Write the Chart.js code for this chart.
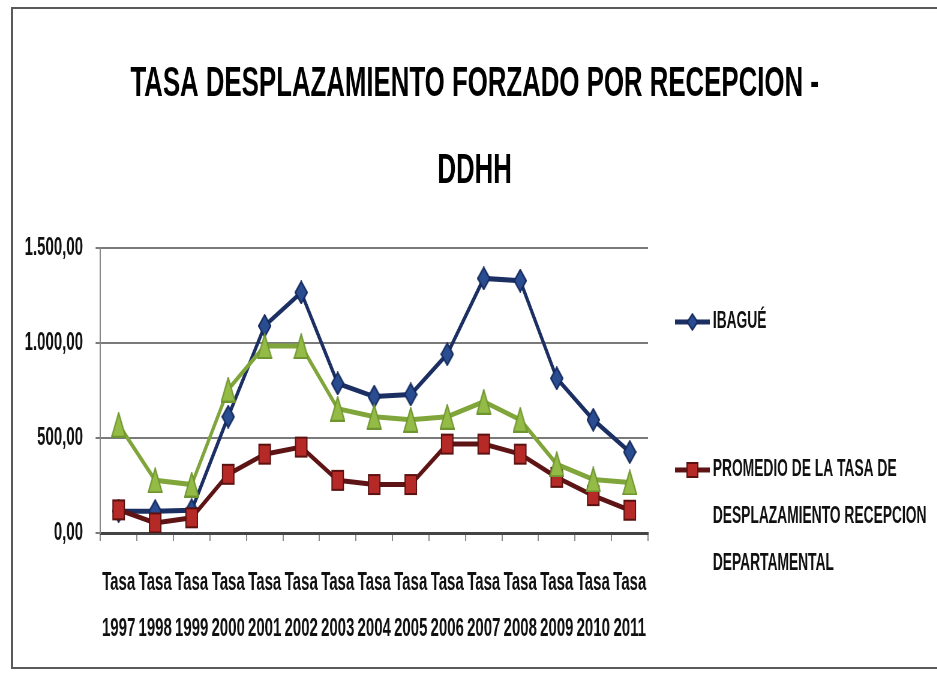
<!DOCTYPE html>
<html>
<head>
<meta charset="utf-8">
<script src="https://cdn.jsdelivr.net/npm/chart.js@4/dist/chart.umd.min.js"></script>
<style>
  html, body { margin: 0; padding: 0; background: #fff; }
  body { width: 937px; height: 673px; overflow: hidden; position: relative; }
  #frame {
    position: absolute; left: 11px; top: 7px; width: 940px; height: 658px;
    border: 2px solid #5a5a5a; border-right: none;
  }
  /* the reference is squeezed sideways, so the chart is drawn wide and scaled down */
  #wrap {
    position: absolute; left: 0; top: 0; width: 1562px; height: 673px;
    transform: scaleX(0.6); transform-origin: 0 0;
  }
</style>
</head>
<body>
<div id="frame"></div>
<div id="wrap"><canvas id="chart"></canvas></div>
<script>
// Data
const years = ['1997', '1998', '1999', '2000', '2001', '2002', '2003', '2004',
  '2005', '2006', '2007', '2008', '2009', '2010', '2011'];
const ibague = [115, 115, 120, 612, 1090, 1266, 787, 718, 729, 941, 1340, 1328, 814, 596, 426];
const promedio = [122, 53, 80, 309, 415, 452, 277, 255, 255, 468, 468, 415, 293, 197, 120];
const tercera = [570, 277, 255, 755, 984, 984, 654, 612, 596, 612, 691, 596, 362, 282, 266];
const yTickLabels = ['0,00', '500,00', '1.000,00', '1.500,00'];
const titleLines = ['TASA DESPLAZAMIENTO FORZADO POR RECEPCION -', 'DDHH'];
const legendIbague = ['IBAGUÉ'];
const legendPromedio = ['PROMEDIO DE LA TASA DE', 'DESPLAZAMIENTO RECEPCION', 'DEPARTAMENTAL'];

const FONT = "'Liberation Sans', Arial, sans-serif";

// Marker shapes drawn into small canvases (used as point styles)
function markerCanvas(kind, w, h) {
  const c = document.createElement('canvas');
  c.width = w + 2;
  c.height = h + 2;
  const g = c.getContext('2d');
  const cx = c.width / 2;
  const cy = c.height / 2;
  g.lineWidth = 2;
  g.beginPath();
  if (kind === 'diamond') {
    g.moveTo(cx, cy - h / 2); g.lineTo(cx + w / 2, cy);
    g.lineTo(cx, cy + h / 2); g.lineTo(cx - w / 2, cy);
    g.closePath();
    g.fillStyle = '#2a4d92'; g.strokeStyle = '#14295c';
  } else if (kind === 'square') {
    g.rect(cx - w / 2 + 1, cy - h / 2 + 1, w - 2, h - 2);
    g.fillStyle = '#b52a26'; g.strokeStyle = '#5c1111';
  } else {
    g.moveTo(cx, cy - h / 2); g.lineTo(cx + w / 2, cy + h / 2);
    g.lineTo(cx - w / 2, cy + h / 2);
    g.closePath();
    g.fillStyle = '#93bb45'; g.strokeStyle = '#6f9530';
  }
  g.fill();
  g.stroke();
  return c;
}

const blueDot = markerCanvas('diamond', 20, 22);
const redDot = markerCanvas('square', 21, 21);
const greenDot = markerCanvas('triangle', 23, 24);

// Legend on the right, drawn by hand so the wrapped label sits like the original
const sideLegend = {
  id: 'sideLegend',
  afterDraw(chart) {
    const { ctx, chartArea } = chart;
    const entries = [
      { lines: legendIbague, ds: 0, marker: markerCanvas('diamond', 17, 16), dy: 74 },
      { lines: legendPromedio, ds: 1, marker: markerCanvas('square', 20, 16), dy: 222 }
    ];
    const x0 = chartArea.right + 45;
    ctx.save();
    ctx.textBaseline = 'middle';
    ctx.font = 'bold 23px ' + FONT;
    entries.forEach(e => {
      const y = chartArea.top + e.dy;
      ctx.fillStyle = chart.data.datasets[e.ds].borderColor;
      ctx.fillRect(x0, y - 2.5, 58, 5);
      ctx.drawImage(e.marker, x0 + 29 - e.marker.width / 2, y - e.marker.height / 2);
      ctx.fillStyle = '#111';
      e.lines.forEach((line, i) => ctx.fillText(line, x0 + 63, y + i * 47));
    });
    ctx.restore();
  }
};

const ctx = document.getElementById('chart').getContext('2d');
new Chart(ctx, {
  type: 'line',
  data: {
    labels: years.map(y => ['Tasa', y]),
    datasets: [
      {
        label: 'IBAGUÉ',
        data: ibague,
        borderColor: '#1b2f63',
        borderWidth: 5,
        pointStyle: blueDot,
        order: 3
      },
      {
        label: legendPromedio.join(' '),
        data: promedio,
        borderColor: '#5e1414',
        borderWidth: 5,
        pointStyle: redDot,
        order: 2
      },
      {
        label: 'Serie 3',
        data: tercera,
        borderColor: '#80a53a',
        borderWidth: 5,
        pointStyle: greenDot,
        order: 1
      }
    ]
  },
  options: {
    responsive: true,
    maintainAspectRatio: false,
    animation: false,
    elements: { line: { tension: 0 } },
    layout: { padding: { top: 10, bottom: 2, left: 20, right: 0 } },
    scales: {
      x: {
        offset: true,
        grid: { display: true, drawOnChartArea: false, offset: true, tickLength: 8, color: '#888', lineWidth: 2 },
        border: { color: '#444', width: 3 },
        ticks: {
          padding: 19,
          maxRotation: 0,
          autoSkip: false,
          color: '#111',
          font: { family: FONT, size: 25, weight: 'bold', lineHeight: 1.84 }
        }
      },
      y: {
        min: 0,
        max: 1500,
        grid: { color: '#7a7a7a', lineWidth: 2, tickLength: 8 },
        border: { color: '#888', width: 2 },
        ticks: {
          stepSize: 500,
          padding: 21,
          color: '#111',
          font: { family: FONT, size: 25, weight: 'bold' },
          callback: (value, index) => yTickLabels[index]
        }
      },
      // empty axis that keeps room for the legend on the right
      side: {
        type: 'linear',
        position: 'right',
        display: true,
        grid: { display: false },
        border: { display: false },
        ticks: { display: false },
        afterFit: (axis) => { axis.width = 482; }
      }
    },
    plugins: {
      title: {
        display: true,
        text: titleLines,
        color: '#000',
        font: { family: FONT, size: 43, weight: 'bold', lineHeight: 2.023 },
        padding: { top: 31, bottom: 33 }
      },
      legend: { display: false },
      tooltip: { enabled: false }
    }
  },
  plugins: [sideLegend]
});
</script>
</body>
</html>
